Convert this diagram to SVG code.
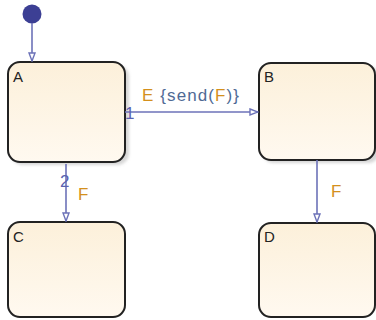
<svg xmlns="http://www.w3.org/2000/svg" width="376" height="320" viewBox="0 0 376 320">
<style>
.st{fill:url(#g);stroke:#222;stroke-width:2}
.sh{fill:#bbb;opacity:0.6}
.lbl{font-family:"Liberation Sans",Arial,sans-serif;font-size:15px;fill:#222}
.tr{stroke:#6c72b8;stroke-width:1.6;fill:none}
.ev{font-family:"Liberation Sans",Arial,sans-serif;font-size:17px;fill:#d4901c}
.ac{fill:#4f6a95}
.num{font-family:"Liberation Sans",Arial,sans-serif;font-size:17px;fill:#5a62b0}
</style>
<defs>
<linearGradient id="g" x1="0" y1="0" x2="0" y2="1">
<stop offset="0" stop-color="#fcf0da"/>
<stop offset="1" stop-color="#fff9f0"/>
</linearGradient>
<filter id="bl" x="-10%" y="-10%" width="130%" height="130%"><feGaussianBlur stdDeviation="1.5"/></filter>
<marker id="ah" markerWidth="10" markerHeight="8" refX="9" refY="4" orient="auto" markerUnits="userSpaceOnUse">
<path d="M1,1 L9,4 L1,7 Z" fill="#fff" stroke="#6c72b8" stroke-width="1.4"/>
</marker>
</defs>
<g id="A">
<rect class="sh" x="11" y="65" width="118" height="100" rx="12" filter="url(#bl)"/>
<rect class="st" x="8" y="62" width="117" height="100" rx="12"/>
<text class="lbl" x="13" y="82">A</text>
</g>
<g id="B">
<rect class="sh" x="262" y="66" width="118" height="97" rx="12" filter="url(#bl)"/>
<rect class="st" x="259" y="63" width="116" height="97" rx="12"/>
<text class="lbl" x="264" y="82">B</text>
</g>
<g id="C">
<rect class="st" x="8" y="222" width="117" height="95" rx="12"/>
<text class="lbl" x="13" y="242">C</text>
</g>
<g id="D">
<rect class="st" x="259" y="223" width="116" height="94" rx="12"/>
<text class="lbl" x="264" y="242">D</text>
</g>
<g id="initial">
<circle cx="32" cy="14" r="9.5" fill="#3c3f94"/>
</g>
<g id="connectors">
<path class="tr" d="M32,23 L32,61" marker-end="url(#ah)"/>
<path class="tr" d="M125,112 L258,112" marker-end="url(#ah)"/>
<path class="tr" d="M66,164 L66,221" marker-end="url(#ah)"/>
<path class="tr" d="M317,160 L317,222" marker-end="url(#ah)"/>
<text class="ev" x="142" y="101" letter-spacing="1.1">E <tspan class="ac">{send(</tspan><tspan>F</tspan><tspan class="ac">)}</tspan></text>
<text class="num" x="125" y="119" font-size="15">1</text>
<text class="num" x="60" y="187">2</text>
<text class="ev" x="78" y="200">F</text>
<text class="ev" x="331" y="197">F</text>
</g>
</svg>
